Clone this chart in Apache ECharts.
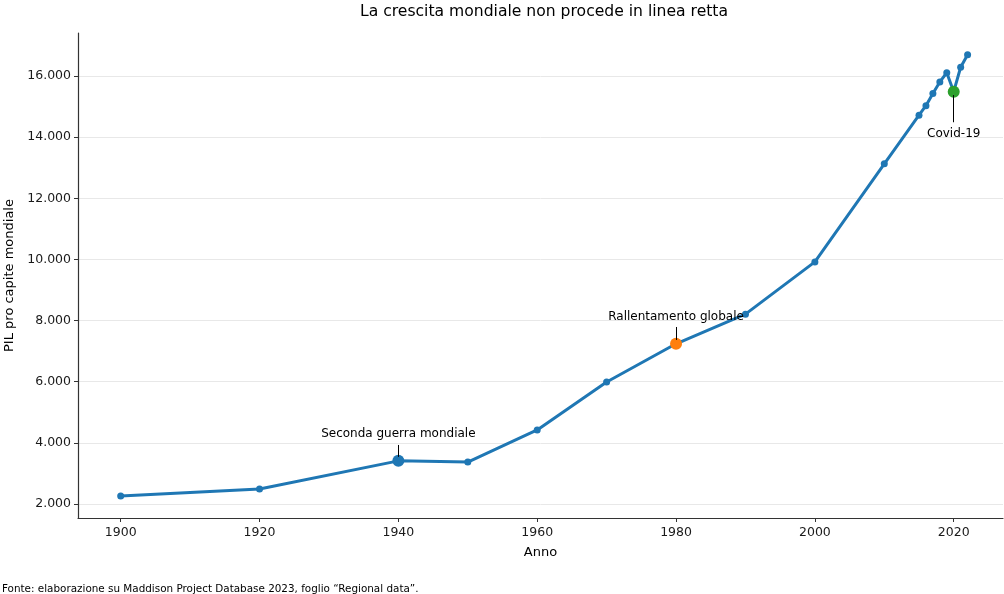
<!DOCTYPE html>
<html>
<head>
<meta charset="utf-8">
<script src="https://cdn.jsdelivr.net/npm/echarts@6/dist/echarts.min.js"></script>
<style>
  html, body { margin: 0; padding: 0; background: #fff; }
  #chart { width: 1004px; height: 594px; }
</style>
</head>
<body>
<div id="chart"></div>
<script>
const years = [1900, 1920, 1940, 1950, 1960, 1970, 1980, 1990, 2000, 2010,
  2015, 2016, 2017, 2018, 2019, 2020, 2021, 2022];
const gdp = [2260, 2490, 3410, 3370, 4420, 5990, 7240, 8210, 9920, 13130,
  14720, 15030, 15430, 15810, 16110, 15490, 16290, 16700];

const xTicks = [1900, 1920, 1940, 1960, 1980, 2000, 2020];
const yTicks = [2000, 4000, 6000, 8000, 10000, 12000, 14000, 16000];

// annotated events
const eventYears = [1940, 1980, 2020];
const eventLabels = ['Seconda guerra mondiale', 'Rallentamento globale', 'Covid-19'];
const eventColors = ['#1f77b4', '#ff7f0e', '#2ca02c'];
// leader line ends for each annotation
const leaderFrom = [3540, 7365, 14490];
const leaderTo = [3930, 7790, 15380];

const fmt = v => String(v).replace(/\B(?=(\d{3})+(?!\d))/g, '.');
const font = 'DejaVu Sans';

const points = years.map((y, i) => [y, gdp[i]]);
const events = eventYears.map((y, i) => ({
  value: [y, gdp[years.indexOf(y)]],
  itemStyle: { color: eventColors[i], opacity: 1 },
  label: {
    show: true,
    formatter: eventLabels[i],
    color: '#000',
    position: i === 2 ? 'bottom' : 'top',
    distance: i === 2 ? 30 : 15
  }
}));

const myChart = echarts.init(document.querySelector('#chart'), null, { renderer: 'canvas' });

const option = {
  animation: false,
  textStyle: { fontFamily: font },
  title: [
    {
      text: 'La crescita mondiale non procede in linea retta',
      left: 539,
      textAlign: 'center',
      top: -1,
      textStyle: { fontFamily: font, fontSize: 15.6, fontWeight: 'normal', color: '#000' }
    },
    {
      text: 'Fonte: elaborazione su Maddison Project Database 2023, foglio \u201cRegional data\u201d.',
      left: -3,
      top: 579,
      textStyle: { fontFamily: font, fontSize: 10.4, fontWeight: 'normal', color: '#000' }
    }
  ],
  grid: { left: 78, right: 1, top: 33, bottom: 76, outerBoundsMode: 'none', containLabel: false },
  xAxis: {
    type: 'value',
    min: 1893.85,
    max: 2027.1,
    name: 'Anno',
    nameLocation: 'middle',
    nameGap: 28,
    nameTextStyle: { fontFamily: font, fontSize: 13, color: '#000' },
    axisLine: { lineStyle: { color: '#333', width: 1.2 } },
    axisTick: { show: true, customValues: xTicks, length: 4, lineStyle: { color: '#333' } },
    axisLabel: { customValues: xTicks, fontFamily: font, fontSize: 12.5, color: '#1a1a1a', margin: 8, formatter: v => String(v) },
    splitLine: { show: false }
  },
  yAxis: {
    type: 'value',
    min: 1540,
    max: 17410,
    name: 'PIL pro capite mondiale',
    nameLocation: 'middle',
    nameGap: 56,
    nameTextStyle: { fontFamily: font, fontSize: 13, color: '#000' },
    axisLine: { show: true, lineStyle: { color: '#333', width: 1.2 } },
    axisTick: { show: true, customValues: yTicks, length: 4, lineStyle: { color: '#333' } },
    axisLabel: { customValues: yTicks, fontFamily: font, fontSize: 12.5, color: '#1a1a1a', margin: 7, formatter: fmt },
    splitLine: { show: true, lineStyle: { color: '#e8e8e8', width: 1 } }
  },
  series: [
    {
      name: 'PIL',
      type: 'line',
      data: points,
      z: 3,
      symbol: 'circle',
      symbolSize: 7,
      itemStyle: { color: '#1f77b4' },
      lineStyle: { color: '#1f77b4', width: 3 }
    },
    {
      name: 'Eventi',
      type: 'scatter',
      data: events,
      z: 4,
      symbolSize: 12,
      label: { fontFamily: font, fontSize: 12, color: '#000' },
      markLine: {
        silent: true,
        symbol: 'none',
        label: { show: false },
        lineStyle: { color: '#000', type: 'solid', width: 1 },
        data: eventYears.map((y, i) => [
          { coord: [y, leaderFrom[i]] },
          { coord: [y, leaderTo[i]] }
        ])
      }
    }
  ]
};

myChart.setOption(option);
</script>
</body>
</html>
